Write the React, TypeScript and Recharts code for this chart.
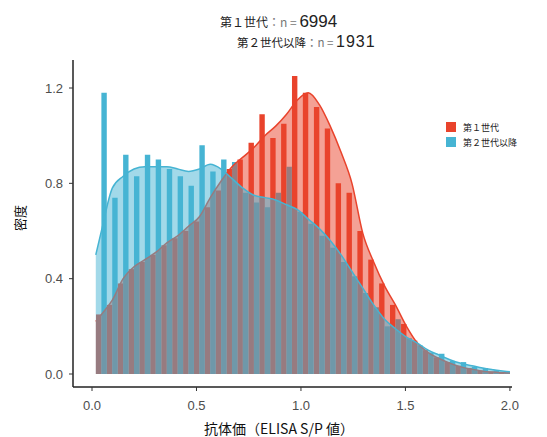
import React from 'react';
import { ComposedChart, Bar, Area, XAxis, YAxis } from 'recharts';

// histogram bin centres (ELISA S/P)
const binCenters = [0.045, 0.097, 0.149, 0.201, 0.253, 0.305, 0.358, 0.410, 0.462, 0.514, 0.566, 0.618, 0.670, 0.722, 0.775, 0.827, 0.879, 0.931, 0.983, 1.035, 1.088, 1.140, 1.192, 1.244, 1.296, 1.348, 1.400, 1.452, 1.505, 1.557, 1.609, 1.661, 1.713, 1.765, 1.818, 1.870, 1.922, 1.974];
// 第1世代 histogram density
const gen1Hist = [0.25, 0.29, 0.38, 0.44, 0.47, 0.50, 0.54, 0.57, 0.60, 0.64, 0.70, 0.77, 0.86, 0.90, 0.97, 1.09, 0.99, 1.05, 1.25, 1.18, 1.12, 1.03, 0.80, 0.76, 0.60, 0.48, 0.38, 0.29, 0.21, 0.14, 0.10, 0.07, 0.05, 0.035, 0.025, 0.015, 0.01, 0.005];
// 第2世代以降 histogram density
const gen2Hist = [1.18, 0.74, 0.92, 0.83, 0.92, 0.90, 0.86, 0.83, 0.79, 0.96, 0.85, 0.90, 0.89, 0.76, 0.72, 0.70, 0.76, 0.87, 0.68, 0.63, 0.58, 0.53, 0.47, 0.41, 0.34, 0.28, 0.20, 0.23, 0.15, 0.12, 0.09, 0.085, 0.055, 0.05, 0.03, 0.025, 0.015, 0.01];

// kernel density curves
const densityX = [0.018, 0.045, 0.097, 0.149, 0.201, 0.253, 0.305, 0.358, 0.410, 0.462, 0.514, 0.566, 0.618, 0.670, 0.722, 0.775, 0.827, 0.879, 0.931, 0.983, 1.035, 1.088, 1.140, 1.192, 1.244, 1.296, 1.348, 1.400, 1.452, 1.505, 1.557, 1.609, 1.661, 1.713, 1.765, 1.818, 1.870, 1.922, 1.974, 2.0];
const gen1Density = [0.22, 0.25, 0.31, 0.40, 0.45, 0.48, 0.51, 0.55, 0.58, 0.62, 0.66, 0.74, 0.81, 0.87, 0.91, 0.95, 1.00, 1.04, 1.09, 1.15, 1.18, 1.13, 1.04, 0.93, 0.80, 0.59, 0.47, 0.37, 0.29, 0.20, 0.13, 0.09, 0.065, 0.045, 0.03, 0.02, 0.012, 0.008, 0.005, 0.004];
const gen2Density = [0.50, 0.60, 0.78, 0.83, 0.86, 0.87, 0.87, 0.87, 0.86, 0.85, 0.86, 0.88, 0.86, 0.82, 0.78, 0.75, 0.74, 0.73, 0.71, 0.69, 0.65, 0.61, 0.56, 0.50, 0.43, 0.36, 0.29, 0.23, 0.19, 0.155, 0.13, 0.10, 0.08, 0.06, 0.045, 0.035, 0.025, 0.018, 0.012, 0.01];

const xTicks = [0, 0.5, 1, 1.5, 2];
const yTicks = [0, 0.4, 0.8, 1.2];
const seriesNames = ['第１世代', '第２世代以降'];
const sampleSizes = ['6994', '1931'];
const xLabel = '抗体価（ELISA S/P 値）';
const yLabel = '密度';

const RED = '#E9432C';
const CYAN = '#46B4D3';
const CJK = '"Noto Sans CJK JP", "Noto Sans", sans-serif';
const SANS = '"Liberation Sans", Arial, sans-serif';

const histData = binCenters.map((x, i) => ({ x, g1: gen1Hist[i], g2: gen2Hist[i] }));
const densData = densityX.map((x, i) => ({ x, d1: gen1Density[i], d2: gen2Density[i] }));

const X_DOMAIN: [number, number] = [-0.091, 2.01];
const Y_DOMAIN: [number, number] = [-0.0545, 1.3175];

export default function App() {
  return (
    <div style={{ position: 'absolute', left: 0, top: 0, width: 547, height: 437, background: '#fff' }}>
      <ComposedChart
        width={547}
        height={437}
        data={histData}
        margin={{ top: 60, right: 35, left: 0, bottom: 0 }}
        barGap={0}
        barCategoryGap={0}
      >
        <XAxis
          xAxisId="hist"
          dataKey="x"
          type="number"
          domain={X_DOMAIN}
          allowDataOverflow
          ticks={xTicks}
          tickFormatter={(v: number) => v.toFixed(1)}
          height={50}
          tickSize={4}
          tickMargin={10}
          stroke="#222"
          strokeWidth={1.5}
          tick={{ fill: '#4D4D4D', fontSize: 13, fontFamily: SANS }}
          tickLine={{ stroke: '#333', strokeWidth: 1 }}
        />
        <XAxis xAxisId="dens" dataKey="x" type="number" domain={X_DOMAIN} allowDataOverflow hide height={0} orientation="top" />
        <YAxis
          type="number"
          domain={Y_DOMAIN}
          allowDataOverflow
          ticks={yTicks}
          tickFormatter={(v: number) => v.toFixed(1)}
          width={73}
          tickSize={4}
          tickMargin={6}
          stroke="#222"
          strokeWidth={1.5}
          tick={{ fill: '#4D4D4D', fontSize: 13, fontFamily: SANS }}
          tickLine={{ stroke: '#333', strokeWidth: 1 }}
        />
        <Bar xAxisId="hist" dataKey="g1" fill={RED} barSize={5.4} isAnimationActive={false} />
        <Bar xAxisId="hist" dataKey="g2" fill={CYAN} barSize={5.4} isAnimationActive={false} />
        <Area
          xAxisId="dens"
          data={densData}
          dataKey="d1"
          type="monotone"
          stroke={RED}
          strokeWidth={1.5}
          fill={RED}
          fillOpacity={0.5}
          isAnimationActive={false}
          zIndex={500}
        />
        <Area
          xAxisId="dens"
          data={densData}
          dataKey="d2"
          type="monotone"
          stroke={CYAN}
          strokeWidth={1.5}
          fill={CYAN}
          fillOpacity={0.5}
          isAnimationActive={false}
          zIndex={501}
        />
      </ComposedChart>
      <svg width={547} height={437} style={{ position: 'absolute', left: 0, top: 0, pointerEvents: 'none' }}>
        <text x={220} y={27} fill="#222" fontFamily={CJK} fontSize={12}>
          <tspan>{seriesNames[0]}</tspan>
          <tspan fill="#777">：n = </tspan>
          <tspan fontFamily={SANS} fontSize={17}>{sampleSizes[0]}</tspan>
        </text>
        <text x={237} y={47} fill="#222" fontFamily={CJK} fontSize={11.5}>
          <tspan>{seriesNames[1]}</tspan>
          <tspan fill="#777">：n = </tspan>
          <tspan fontFamily={SANS} fontSize={16} letterSpacing={1}>{sampleSizes[1]}</tspan>
        </text>
        <rect x={446} y={122} width={10} height={10} fill={RED} />
        <rect x={446} y={137} width={10} height={10} fill={CYAN} />
        <text x={463} y={130.5} fill="#222" fontFamily={CJK} fontSize={9}>{seriesNames[0]}</text>
        <text x={463} y={145.5} fill="#222" fontFamily={CJK} fontSize={9}>{seriesNames[1]}</text>
        <text x={279} y={434} textAnchor="middle" fill="#111" fontFamily={CJK} fontSize={14}>{xLabel}</text>
        <text x={0} y={0} transform="translate(25,218) rotate(-90)" textAnchor="middle" fill="#111" fontFamily={CJK} fontSize={13}>{yLabel}</text>
      </svg>
    </div>
  );
}
